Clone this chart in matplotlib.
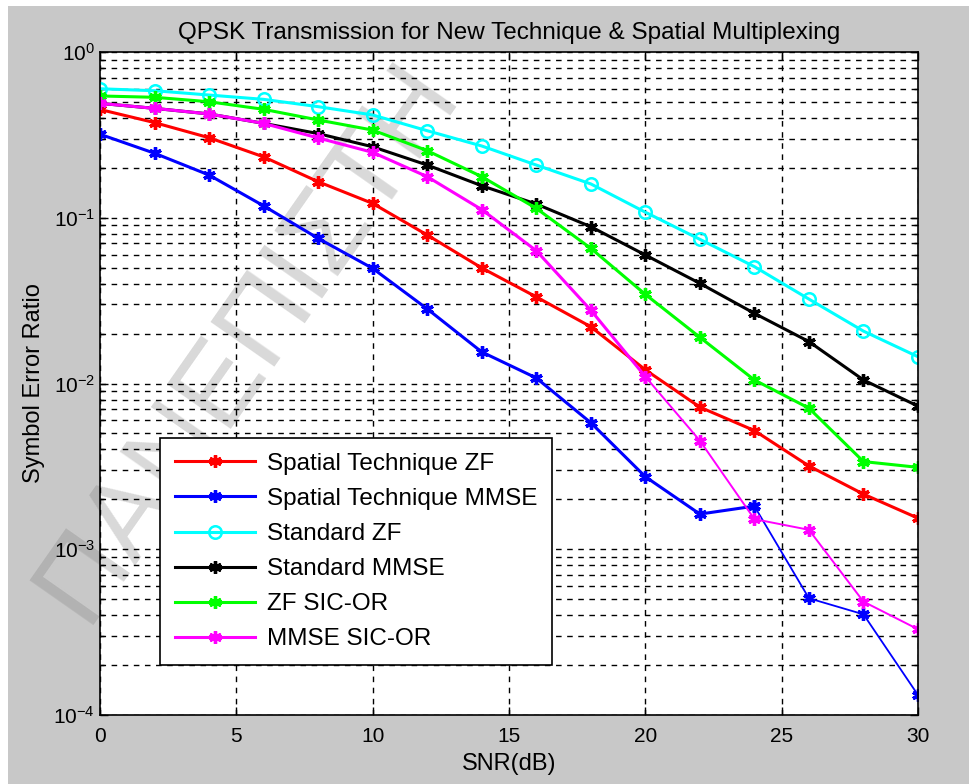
import matplotlib
matplotlib.use("Agg")
import matplotlib.pyplot as plt
from matplotlib.patches import Rectangle
import numpy as np

plt.rcParams['font.family'] = ['Liberation Sans', 'DejaVu Sans']
plt.rcParams['mathtext.fontset'] = 'custom'
plt.rcParams['mathtext.rm'] = 'Liberation Sans'

# SNR axis (dB)
snr = [0, 2, 4, 6, 8, 10, 12, 14, 16, 18, 20, 22, 24, 26, 28, 30]

# symbol error ratios
spatial_zf = [0.45, 0.375, 0.304, 0.233, 0.165, 0.122, 0.0787, 0.0498, 0.0333, 0.0220,
              0.0121, 0.0072, 0.0052, 0.00318, 0.00215, 0.00154]
spatial_mmse = [0.319, 0.245, 0.181, 0.118, 0.0751, 0.0495, 0.0282, 0.0155, 0.0108, 0.0058,
                0.00274, 0.00163, 0.00182, 0.000506, 0.000405, 0.000132]
standard_zf = [0.60, 0.584, 0.55, 0.518, 0.468, 0.417, 0.335, 0.271, 0.208, 0.160,
               0.108, 0.0741, 0.0507, 0.0323, 0.0207, 0.0145]
standard_mmse = [0.49, 0.457, 0.423, 0.371, 0.322, 0.268, 0.208, 0.156, 0.121, 0.0883,
                 0.0596, 0.0402, 0.0265, 0.0179, 0.0105, 0.0073]
zf_sic = [0.543, 0.533, 0.501, 0.451, 0.389, 0.338, 0.254, 0.177, 0.114, 0.0654,
          0.0345, 0.0190, 0.0105, 0.0071, 0.00338, 0.00312]
mmse_sic = [0.49, 0.457, 0.423, 0.371, 0.303, 0.248, 0.177, 0.112, 0.0633, 0.0277,
            0.0110, 0.00452, 0.00152, 0.00131, 0.000483, 0.000329]

labels = ['Spatial Technique ZF', 'Spatial Technique MMSE', 'Standard ZF',
          'Standard MMSE', 'ZF SIC-OR', 'MMSE SIC-OR']

fig = plt.figure(figsize=(9.69, 7.84), dpi=100, facecolor='white')
# grey matlab figure background (thin white border round it)
fig.patches.append(Rectangle((8 / 969, 0), 1, 1 - 6 / 784, transform=fig.transFigure,
                             facecolor='#c8c8c8', edgecolor='none', zorder=-10))
ax_rect = [100 / 969, 1 - 715 / 784, 818 / 969, 663 / 784]
# white plot area drawn on the figure so the watermark can sit between it and the curves
fig.patches.append(Rectangle((ax_rect[0], ax_rect[1]), ax_rect[2], ax_rect[3],
                             transform=fig.transFigure, facecolor='white',
                             edgecolor='none', zorder=-9))

ax = fig.add_axes(ax_rect)
ax.set_facecolor('none')
ax.set_yscale('log')

star = (6, 2, 0)
lw = 2.2
ms = 9
mew = 2.4
ax.plot(snr, spatial_zf, color='#ff0000', lw=lw, marker=star, ms=ms, mew=mew, label=labels[0])
# blue and magenta tails are drawn thinner in the original
ax.plot(snr[:13], spatial_mmse[:13], color='#0000ff', lw=lw, marker=star, ms=ms, mew=mew,
        label=labels[1])
ax.plot(snr[12:], spatial_mmse[12:], color='#0000ff', lw=1.3, marker=star, ms=ms, mew=mew)
ax.plot(snr, standard_zf, color='#00ffff', lw=lw, marker='o', ms=9, mew=1.8,
        mfc='none', label=labels[2])
ax.plot(snr, standard_mmse, color='#000000', lw=lw, marker=star, ms=ms, mew=mew, label=labels[3])
ax.plot(snr, zf_sic, color='#00ff00', lw=lw, marker=star, ms=ms, mew=mew, label=labels[4])
ax.plot(snr[:11], mmse_sic[:11], color='#ff00ff', lw=lw, marker=star, ms=ms, mew=mew,
        label=labels[5])
ax.plot(snr[10:], mmse_sic[10:], color='#ff00ff', lw=1.4, marker=star, ms=ms, mew=mew)

ax.set_xlim(0, 30)
ax.set_ylim(1e-4, 1)
ax.set_xticks([0, 5, 10, 15, 20, 25, 30])
ax.tick_params(which='both', direction='in', top=True, right=True, labelsize=15, width=1)
ax.tick_params(which='major', length=6)
ax.tick_params(which='minor', length=3)
ax.tick_params(axis='x', pad=9)
ax.grid(True, which='major', axis='x', color='black', ls=(0, (4, 4)), lw=1)
ax.grid(True, which='both', axis='y', color='black', ls=(0, (4, 4)), lw=1)
for s in ax.spines.values():
    s.set_linewidth(1.2)

ax.set_title('QPSK Transmission for New Technique & Spatial Multiplexing', fontsize=17.5, pad=9)
ax.set_xlabel('SNR(dB)', fontsize=17, labelpad=5)
ax.set_ylabel('Symbol Error Ratio', fontsize=17, labelpad=6)

leg = ax.legend(loc='lower left', bbox_to_anchor=(0.0733, 0.0754), borderaxespad=0,
                fontsize=17.5, fancybox=False, framealpha=1, edgecolor='black',
                borderpad=0.6, handlelength=3.3, labelspacing=0.54, handletextpad=0.5)
leg.get_frame().set_linewidth(1.2)

# watermark, behind the curves
fig.text(0.255, 0.565, 'ΠΑΝΕΠΙΣΤΗ', fontsize=82, color='#808080', alpha=0.3,
         rotation=55, ha='center', va='center', zorder=-5)

fig.savefig('out.png', dpi=100, facecolor=fig.get_facecolor())
